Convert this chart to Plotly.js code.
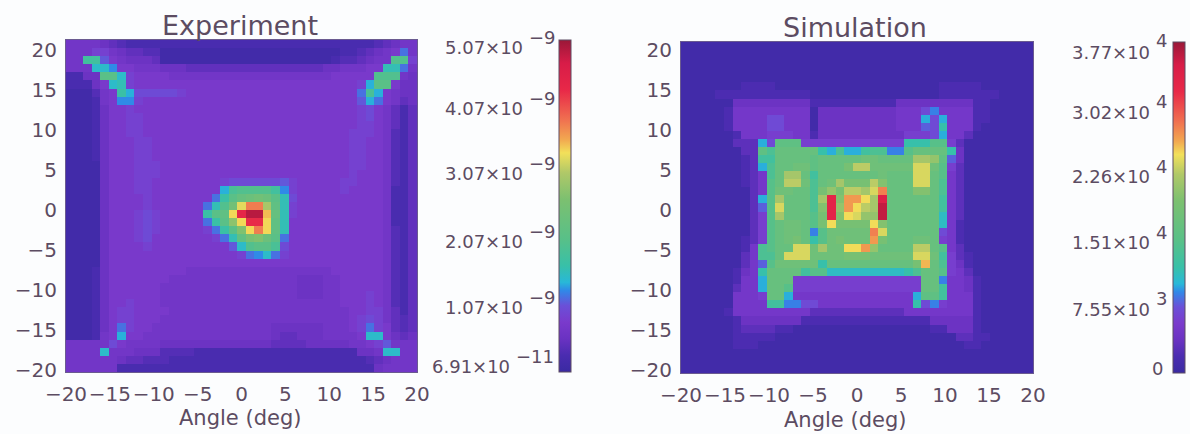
<!DOCTYPE html>
<html>
<head>
<meta charset="utf-8">
<script src="https://cdn.plot.ly/plotly-3.0.0.min.js"></script>
<style>html,body{margin:0;padding:0;background:#fcfdfe}</style>
</head>
<body>
<div id="chart" style="width:1190px;height:434px"></div>
<script>
// Experiment intensity, units of 1e-10, top row (+20 deg) first, left column (-20 deg) first
const experiment = [
[7,7,7,7,6,5,4,3,3,3, 3,3,3,3,3,3,3,3,3,3, 3,3,3,3,3,3,3,3,3,3, 3,3,3,3,3,3,4,5,6,7, 7],
[7,7,7,9,9,7,6,5,5,4, 4,2,2,2,2,2,2,2,2,2, 2,2,2,2,2,2,2,2,2,2, 2,2,3,3,4,5,6,7,8,12, 7],
[7,7,18,18,11,8,7,6,6,6, 5,2,2,2,2,2,2,2,2,2, 2,2,2,2,2,2,2,2,2,2, 2,3,4,4,5,6,7,7,20,20, 9],
[7,7,7,15,15,13,8,8,7,7, 7,6,6,6,5,5,5,5,5,5, 5,5,5,5,5,5,5,5,5,5, 6,6,7,7,7,8,8,16,16,12, 7],
[3,3,6,6,21,21,15,9,8,8, 8,8,7,7,7,7,7,7,7,7, 7,7,7,7,7,7,7,7,7,7, 7,8,8,8,8,8,20,20,20,7, 6],
[3,3,3,6,8,15,16,9,8,8, 8,8,8,8,8,8,8,8,8,8, 8,8,8,8,8,8,8,8,8,8, 8,8,8,8,9,14,21,21,8,6, 6],
[2,2,2,4,7,8,17,14,10,10, 10,10,10,9,8,8,8,8,8,8, 8,8,8,8,8,8,8,8,8,8, 8,8,8,8,12,19,14,8,7,6, 6],
[2,2,2,3,7,8,13,13,9,8, 8,8,8,8,8,8,8,8,8,8, 8,8,8,8,8,8,8,8,8,8, 8,8,8,8,11,14,12,8,7,5, 6],
[2,2,2,3,6,8,8,9,8,8, 8,8,8,8,8,8,8,8,8,8, 8,8,8,8,8,8,8,8,8,8, 8,8,8,8,9,10,8,7,5,3, 5],
[2,2,2,3,6,8,8,9,9,8, 8,8,8,8,8,8,8,8,8,8, 8,8,8,8,8,8,8,8,8,8, 8,8,8,8,9,10,8,7,5,3, 5],
[2,2,2,3,6,8,8,9,9,8, 8,8,8,8,8,8,8,8,8,8, 8,8,8,8,8,8,8,8,8,8, 8,8,8,8,9,9,8,7,5,3, 5],
[2,2,2,3,6,8,8,9,9,8, 8,8,8,8,8,8,8,8,8,8, 8,8,8,8,8,8,8,8,8,8, 8,8,8,9,9,9,8,7,4,3, 5],
[2,2,2,3,6,8,8,8,9,9, 8,8,8,8,8,8,8,8,8,8, 8,8,8,8,8,8,8,8,8,8, 8,8,8,9,9,8,8,7,4,3, 5],
[2,2,2,3,6,8,8,8,9,9, 8,8,8,8,8,8,8,8,8,8, 8,8,8,8,8,8,8,8,8,8, 8,8,8,9,9,8,8,7,4,3, 5],
[2,2,2,3,6,8,8,8,9,9, 8,8,8,8,8,8,8,8,8,8, 8,8,8,8,8,8,8,8,8,8, 8,8,8,9,9,8,8,7,4,3, 5],
[2,2,2,2,6,8,8,8,9,9, 9,8,8,8,8,8,8,8,8,8, 8,8,8,8,8,8,8,8,8,8, 8,8,8,9,9,8,8,7,4,3, 5],
[2,2,2,2,6,8,8,8,9,9, 9,8,8,8,8,8,8,8,8,8, 8,8,8,8,8,8,8,8,8,8, 8,8,8,9,8,8,8,7,4,3, 5],
[2,2,2,2,6,8,8,8,9,9, 8,8,8,8,8,8,8,8,9,10, 10,10,10,10,10,11,9,8,8,8, 8,8,9,9,8,8,8,7,4,3, 5],
[2,2,2,2,6,8,8,8,9,9, 8,8,8,8,8,8,8,8,14,19, 20,20,20,20,18,13,9,8,8,8, 8,8,9,8,8,8,8,7,3,3, 5],
[2,2,2,2,6,8,8,8,8,9, 8,8,8,8,8,8,8,12,17,21, 23,24,25,24,21,16,10,8,8,8, 8,8,8,8,8,8,8,7,3,3, 5],
[2,2,2,2,6,8,8,8,8,9, 8,8,8,8,8,8,12,16,20,25, 33,38,38,30,22,16,9,8,8,8, 8,8,8,8,8,8,8,7,3,3, 5],
[2,2,2,2,6,8,8,8,9,10, 9,8,8,8,8,8,17,21,22,34, 44,49,49,35,23,16,9,8,8,8, 8,8,8,8,8,8,8,7,3,3, 5],
[2,2,2,2,6,8,8,8,9,10, 9,8,8,8,8,8,12,17,21,28, 34,43,43,34,22,16,8,8,8,8, 8,8,8,8,8,8,8,7,3,3, 5],
[2,2,2,2,6,8,8,8,9,10, 9,8,8,8,8,8,9,12,17,21, 27,34,38,34,22,16,8,8,8,8, 8,8,8,8,8,8,8,7,4,3, 5],
[2,2,2,2,6,8,8,8,9,10, 8,8,8,8,8,8,8,9,12,16, 22,26,27,24,21,12,8,8,8,8, 8,8,8,8,8,8,8,7,4,3, 5],
[2,2,2,2,6,8,8,8,8,9, 8,8,8,8,8,8,8,8,8,11, 15,20,21,21,19,10,8,8,8,8, 8,8,8,8,8,8,8,7,4,3, 5],
[2,2,2,2,6,8,8,8,8,8, 8,8,8,8,8,8,8,8,8,8, 9,12,13,15,12,9,8,8,8,8, 8,8,8,8,8,8,8,7,4,3, 5],
[2,2,2,2,6,8,8,8,8,8, 8,8,8,8,8,8,8,8,8,8, 8,8,8,8,8,8,8,8,8,8, 8,8,8,8,8,8,8,7,4,3, 5],
[2,2,2,3,6,8,8,8,8,8, 8,8,8,8,7,7,7,7,7,7, 7,7,7,7,7,7,7,7,7,7, 7,8,8,8,8,8,8,7,4,3, 5],
[2,2,2,3,6,8,8,8,8,8, 8,8,7,7,7,7,7,7,7,7, 7,7,7,7,7,7,7,6,6,6, 7,7,8,8,8,8,8,7,4,3, 5],
[2,2,2,3,6,8,8,8,8,8, 8,7,7,7,7,7,7,7,7,7, 7,7,7,7,7,7,7,6,6,6, 7,7,8,8,8,8,8,7,4,3, 5],
[2,2,2,3,6,8,8,8,8,8, 8,7,7,7,7,7,7,7,7,7, 7,7,7,7,7,7,7,6,6,6, 7,7,8,8,8,9,8,7,4,3, 5],
[2,2,2,3,6,8,8,9,8,8, 8,7,7,7,7,7,7,7,7,7, 7,7,7,7,7,7,7,7,7,7, 7,7,8,8,8,9,8,7,4,3, 5],
[2,2,2,3,6,8,9,9,8,8, 8,8,7,7,7,7,7,7,7,7, 7,7,7,7,7,7,7,7,7,7, 7,7,7,8,8,9,9,7,5,3, 5],
[2,2,2,3,6,8,9,9,8,8, 8,7,7,7,7,7,7,7,7,7, 7,7,7,7,7,7,7,7,7,7, 7,7,7,8,9,10,9,7,5,4, 5],
[2,2,2,3,6,8,12,9,8,8, 7,7,7,7,7,7,7,7,7,7, 7,7,7,7,6,6,6,6,6,6, 7,7,7,8,9,12,9,8,5,4, 5],
[2,2,2,3,7,8,14,8,8,7, 7,7,7,7,7,7,7,7,7,7, 7,7,7,7,6,5,5,6,6,6, 7,7,7,7,8,15,15,8,6,5, 6],
[7,7,7,7,7,10,8,7,7,7, 7,6,6,6,6,6,6,6,6,6, 6,6,6,6,5,5,5,5,6,6, 6,6,6,7,7,8,9,11,7,7, 7],
[7,7,7,7,15,7,7,7,6,6, 6,4,4,4,4,3,3,3,3,3, 3,3,3,3,3,3,3,3,3,3, 3,3,3,3,6,6,7,15,15,7, 7],
[7,7,7,7,7,7,6,5,5,4, 4,4,3,3,3,3,3,3,3,3, 3,3,3,3,3,3,3,3,3,3, 3,3,3,3,3,4,5,6,7,7, 7],
[7,7,7,7,7,7,3,3,3,3, 3,3,3,3,3,3,3,3,3,3, 3,3,3,3,3,3,3,3,3,3, 3,3,3,3,3,3,6,7,7,7, 7]
];
// Simulation intensity, units of 1e3, same ordering
const simulation = [
[1,1,1,1,1,1,1,1,1,1, 1,1,1,1,1,1,1,1,1,1, 1,1,1,1,1,1,1,1,1,1, 1,1,1,1,1,1,1,1,1,1, 1],
[1,1,1,1,1,1,1,1,1,1, 1,1,1,1,1,1,1,1,1,1, 1,1,1,1,1,1,1,1,1,1, 1,1,1,1,1,1,1,1,1,1, 1],
[1,1,1,1,1,1,1,1,1,1, 1,1,1,1,1,1,1,1,1,1, 1,1,1,1,1,1,1,1,1,1, 1,1,1,1,1,1,1,1,1,1, 1],
[1,1,1,1,1,1,1,1,1,1, 1,1,1,1,1,1,1,1,1,1, 1,1,1,1,1,1,1,1,1,1, 1,1,1,1,1,1,1,1,1,1, 1],
[1,1,1,1,1,1,1,1,1,1, 1,1,1,1,1,1,1,1,1,1, 1,1,1,1,1,1,1,1,1,1, 1,1,1,1,1,1,1,1,1,1, 1],
[1,1,1,1,1,1,1,2,2,2, 2,1,1,1,1,1,1,1,1,1, 1,1,1,1,1,1,1,1,1,1, 2,2,2,2,2,1,1,1,1,1, 1],
[1,1,1,1,2,2,2,2,2,2, 2,2,2,2,2,1,1,1,1,1, 1,1,1,1,1,1,1,1,1,1, 2,2,2,2,2,2,2,1,1,1, 1],
[1,1,1,1,1,1,4,4,4,4, 4,4,4,4,4,2,2,2,2,2, 2,2,2,2,2,4,4,4,4,4, 4,4,4,4,2,2,1,1,1,1, 1],
[1,1,1,1,1,2,5,5,5,5, 5,5,5,5,5,1,4,4,4,4, 4,4,4,4,4,5,5,5,7,9, 5,5,5,5,2,2,1,1,1,1, 1],
[1,1,1,1,1,2,5,5,5,5, 7,7,5,5,5,1,4,4,4,4, 4,4,4,4,4,5,5,5,10,7, 10,5,5,5,2,2,1,1,1,1, 1],
[1,1,1,1,1,2,5,5,5,5, 7,7,5,5,5,1,4,4,4,4, 4,4,4,4,4,5,5,5,8,7, 12,5,5,5,2,1,1,1,1,1, 1],
[1,1,1,1,1,1,2,5,5,5, 6,6,6,5,5,2,4,4,4,4, 4,4,4,4,4,4,6,6,6,7, 10,5,5,3,1,1,1,1,1,1, 1],
[1,1,1,1,1,1,3,3,3,10, 7,16,16,16,6,6,6,6,6,6, 6,6,6,6,6,6,12,12,12,15, 15,6,3,1,1,1,1,1,1,1, 1],
[1,1,1,1,1,1,1,3,3,16, 14,17,17,17,17,17,12,10,14,10, 10,13,14,14,9,9,15,17,17,17, 17,12,4,1,1,1,1,1,1,1, 1],
[1,1,1,1,1,1,1,2,3,13, 13,17,17,17,17,16,17,17,17,17, 17,18,18,17,17,17,17,22,22,21, 16,8,4,1,1,1,1,1,1,1, 1],
[1,1,1,1,1,1,1,2,3,10, 14,17,17,18,18,16,17,17,17,19, 23,23,18,18,18,18,18,24,24,18, 15,6,3,1,1,1,1,1,1,1, 1],
[1,1,1,1,1,1,1,2,3,5, 14,17,22,22,17,13,17,17,17,17, 17,17,17,18,17,17,17,24,24,17, 15,5,3,1,1,1,1,1,1,1, 1],
[1,1,1,1,1,1,1,2,3,5, 15,17,23,23,18,14,17,18,22,19, 19,19,23,20,17,17,17,24,24,17, 14,5,3,1,1,1,1,1,1,1, 1],
[1,1,1,1,1,1,1,1,3,5, 15,18,18,17,17,14,19,21,19,23, 23,22,24,28,17,17,17,20,20,17, 14,5,3,1,1,1,1,1,1,1, 1],
[1,1,1,1,1,1,1,1,3,10, 15,22,17,17,17,14,22,33,20,27, 27,25,22,34,17,17,17,17,17,17, 13,5,3,1,1,1,1,1,1,1, 1],
[1,1,1,1,1,1,1,1,3,8, 15,24,17,17,17,14,20,33,21,27, 25,23,22,36,17,17,17,17,17,17, 13,5,3,1,1,1,1,1,1,1, 1],
[1,1,1,1,1,1,1,1,3,6, 15,22,17,17,17,15,19,33,20,25, 24,21,21,36,17,17,17,17,17,17, 11,5,3,1,1,1,1,1,1,1, 1],
[1,1,1,1,1,1,1,1,3,6, 15,17,18,18,17,15,19,25,19,19, 19,19,25,20,17,17,17,17,17,17, 11,5,2,1,1,1,1,1,1,1, 1],
[1,1,1,1,1,1,1,1,3,6, 15,17,18,18,17,9,15,18,18,18, 18,18,28,24,17,17,17,17,17,17, 7,5,2,1,1,1,1,1,1,1, 1],
[1,1,1,1,1,1,1,2,3,6, 15,17,18,19,17,12,15,18,19,18, 18,18,27,19,17,17,17,18,18,17, 6,5,2,1,1,1,1,1,1,1, 1],
[1,1,1,1,1,1,1,2,5,14, 15,17,17,24,24,18,22,18,18,25, 25,27,21,17,17,17,17,23,23,17, 15,5,3,1,1,1,1,1,1,1, 1],
[1,1,1,1,1,1,1,3,5,14, 14,17,24,24,24,18,18,18,18,19, 19,19,18,18,18,18,18,24,24,18, 13,6,3,2,1,1,1,1,1,1, 1],
[1,1,1,1,1,1,1,3,5,8, 15,18,18,18,18,18,12,17,17,17, 17,17,17,17,17,17,17,19,26,17, 14,6,4,2,1,1,1,1,1,1, 1],
[1,1,1,1,1,1,2,4,5,12, 17,17,17,17,13,15,15,11,11,11, 11,11,11,11,11,11,12,14,17,17, 15,6,5,3,1,1,1,1,1,1, 1],
[1,1,1,1,1,1,2,5,5,10, 17,17,17,6,6,6,6,6,6,6, 6,6,6,6,6,6,6,6,17,17, 9,5,5,4,2,1,1,1,1,1, 1],
[1,1,1,1,1,1,3,5,5,10, 17,17,15,6,6,6,6,6,6,6, 6,6,6,6,6,6,6,6,17,17, 13,5,5,4,2,1,1,1,1,1, 1],
[1,1,1,1,1,1,5,5,5,6, 17,17,10,5,5,5,5,5,5,5, 5,5,5,5,5,5,5,10,16,16, 13,5,5,5,2,1,1,1,1,1, 1],
[1,1,1,1,1,1,5,5,5,5, 13,13,9,9,7,7,5,5,5,5, 5,5,5,5,5,5,5,12,7,9, 6,5,5,5,2,1,1,1,1,1, 1],
[1,1,1,1,1,2,5,5,5,5, 5,5,5,5,5,3,3,3,3,3, 3,3,3,3,3,3,5,5,5,5, 5,5,5,5,2,1,1,1,1,1, 1],
[1,1,1,1,1,1,2,4,4,4, 4,4,4,4,2,2,2,2,2,2, 2,2,2,2,2,2,2,2,2,4, 4,4,4,4,2,1,1,1,1,1, 1],
[1,1,1,1,1,1,2,3,3,3, 3,2,2,1,1,1,1,1,1,1, 1,1,1,1,1,1,1,1,1,2, 2,4,4,4,2,1,1,1,1,1, 1],
[1,1,1,1,1,1,2,2,2,2, 2,1,1,1,1,1,1,1,1,1, 1,1,1,1,1,1,1,1,1,1, 1,1,3,3,2,2,1,1,1,1, 1],
[1,1,1,1,1,1,2,2,2,1, 1,1,1,1,1,1,1,1,1,1, 1,1,1,1,1,1,1,1,1,1, 1,1,1,2,2,1,1,1,1,1, 1],
[1,1,1,1,1,1,1,1,1,1, 1,1,1,1,1,1,1,1,1,1, 1,1,1,1,1,1,1,1,1,1, 1,1,1,1,1,1,1,1,1,1, 1],
[1,1,1,1,1,1,1,1,1,1, 1,1,1,1,1,1,1,1,1,1, 1,1,1,1,1,1,1,1,1,1, 1,1,1,1,1,1,1,1,1,1, 1],
[1,1,1,1,1,1,1,1,1,1, 1,1,1,1,1,1,1,1,1,1, 1,1,1,1,1,1,1,1,1,1, 1,1,1,1,1,1,1,1,1,1, 1]
];
const expMin = 0.691, expMax = 50.7;
const simMin = 0, simMax = 37.7;
const angleTicks = [-20,-15,-10,-5,0,5,10,15,20];
const angleLabels = ['−20','−15','−10','−5','0','5','10','15','20'];
const expBarLabels = ['5.07×10','4.07×10','3.07×10','2.07×10','1.07×10','6.91×10'];
const expBarExps = ['−9','−9','−9','−9','−9','−11'];
const expBarPix = [48,108,174,241,307,366];
const expBarRight = [525,525,525,525,525,512];
const simBarLabels = ['3.77×10','3.02×10','2.26×10','1.51×10','7.55×10','0'];
const simBarExps = ['4','4','4','4','3',''];
const simBarPix = [52,112,177,243,309,368];
const simBarRight = [1152,1152,1152,1152,1152,1165];

const W = 1190, H = 434;
const ink = '#5c4c62';
const fontFamily = '"DejaVu Sans", sans-serif';
const scale = [
  [0,'#3a2aa2'],[0.05,'#4a2cb0'],[0.10,'#6a32c2'],[0.15,'#7a3acc'],[0.20,'#6a50d8'],
  [0.245,'#3088e8'],[0.27,'#28b8d8'],[0.32,'#38c0a8'],[0.40,'#58c088'],[0.52,'#7cc070'],
  [0.60,'#b0c868'],[0.66,'#f2e05a'],[0.70,'#f2a850'],[0.76,'#f07050'],[0.85,'#e82848'],
  [0.93,'#d81c48'],[1,'#9a1838']
];
const px = v => v / W, py = v => 1 - v / H;

function cellCentres(lo, hi, n) {
  const d = (hi - lo) / n;
  return Array.from({length:n}, (_, i) => lo + d * (i + 0.5));
}
const nCells = 41;
function panel(z, zmin, zmax, xName, yName, yLo, yHi, barLeft, barTop, barBottom) {
  return {
    type:'heatmap', z:z, xaxis:xName, yaxis:yName,
    x:cellCentres(-20, 20, nCells),
    y:cellCentres(yLo, yHi, nCells).reverse(),
    zmin:zmin, zmax:zmax, colorscale:scale, hoverinfo:'skip',
    colorbar:{
      x:px(barLeft), xanchor:'left', xpad:0, ypad:0,
      y:py(barBottom), yanchor:'bottom',
      len:(barBottom-barTop)/H, lenmode:'fraction',
      thickness:12, thicknessmode:'pixels',
      outlinecolor:ink, outlinewidth:1, showticklabels:false, ticks:''
    }
  };
}
const traces = [
  panel(experiment, expMin, expMax, 'x', 'y', -20.25, 21.25, 559, 40, 372),
  panel(simulation, simMin, simMax, 'x2', 'y2', -20.4, 21, 1173, 42, 373)
];
function axisBase(extra) {
  return Object.assign({
    tickmode:'array', tickvals:angleTicks, ticktext:angleLabels, tickangle:0,
    tickfont:{family:fontFamily, size:20, color:ink},
    ticks:'', showgrid:false, zeroline:false, showline:true, mirror:true,
    linecolor:'#6a5a90', linewidth:1, ticklabelstandoff:4
  }, extra);
}
function barNotes(labels, exps, pix, rights, expOffset) {
  const out = [];
  labels.forEach((t, i) => {
    out.push({
      xref:'paper', yref:'paper', x:px(rights[i]), y:py(pix[i]), xanchor:'right', yanchor:'middle',
      showarrow:false, text:t, font:{family:fontFamily, size:18, color:ink}
    });
    if (exps[i]) out.push({
      xref:'paper', yref:'paper', x:px(rights[i] + 2), y:py(pix[i] - expOffset), xanchor:'left', yanchor:'middle',
      showarrow:false, text:exps[i], font:{family:fontFamily, size:18, color:ink}
    });
  });
  return out;
}
const titleNote = (t, x, y, size) => ({
  xref:'paper', yref:'paper', x:px(x), y:py(y), xanchor:'center', yanchor:'middle',
  showarrow:false, text:t, font:{family:fontFamily, size:size, color:ink}
});
const layout = {
  width:W, height:H, autosize:false,
  margin:{l:0,r:0,t:0,b:0},
  paper_bgcolor:'#fcfdfe', plot_bgcolor:'#fcfdfe', showlegend:false,
  xaxis:axisBase({domain:[px(66),px(417)], range:[-20,20], anchor:'y'}),
  yaxis:axisBase({domain:[py(372),py(40)], range:[-20.25,21.25], anchor:'x'}),
  xaxis2:axisBase({domain:[px(681),px(1033)], range:[-20,20], anchor:'y2'}),
  yaxis2:axisBase({domain:[py(373),py(42)], range:[-20.4,21], anchor:'x2'}),
  annotations:[
    titleNote('Experiment',240,25,27), titleNote('Simulation',855,28,27),
    titleNote('Angle (deg)',240,418,21), titleNote('Angle (deg)',845,420,21)
  ].concat(barNotes(expBarLabels,expBarExps,expBarPix,expBarRight,10), barNotes(simBarLabels,simBarExps,simBarPix,simBarRight,11))
};
Plotly.newPlot('chart', traces, layout, {displayModeBar:false, staticPlot:true});
</script>
</body>
</html>
